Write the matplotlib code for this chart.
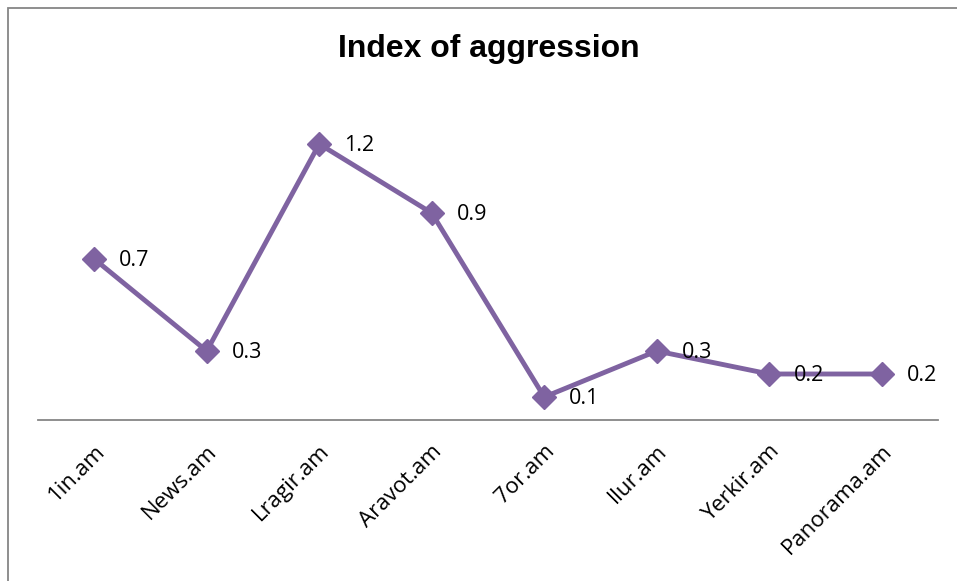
import matplotlib
matplotlib.use("Agg")
import matplotlib.pyplot as plt
from matplotlib.patches import Rectangle

categories = ["1in.am", "News.am", "Lragir.am", "Aravot.am", "7or.am", "Ilur.am", "Yerkir.am", "Panorama.am"]
values = [0.7, 0.3, 1.2, 0.9, 0.1, 0.3, 0.2, 0.2]
title = "Index of aggression"

W, H = 957, 581
fig = plt.figure(figsize=(W / 100, H / 100), dpi=100)
fig.patch.set_facecolor("white")

# outer chart border (clipped at right and bottom like the reference)
fig.add_artist(Rectangle((8 / W, -0.1), 1.2, (H - 8) / H + 0.1, transform=fig.transFigure,
                         fill=False, edgecolor="#868686", linewidth=1.3))

ax = fig.add_axes([38 / W, (H - 420) / H, 900 / W, 322 / H])
x = list(range(len(categories)))
color = "#7F63A1"
ax.plot(x, values, color=color, linewidth=3.5, marker="D", markersize=12,
        markerfacecolor=color, markeredgecolor=color, clip_on=False)
for xi, v in zip(x, values):
    ax.annotate(f"{v:g}", (xi, v), xytext=(18, -1), textcoords="offset points",
                ha="left", va="center", fontsize=15.5, family="Open Sans", color="black")

ax.set_xlim(-0.5, len(categories) - 0.5)
ax.set_ylim(0, 1.4)
ax.set_yticks([])
for s in ["top", "right", "left"]:
    ax.spines[s].set_visible(False)
ax.spines["bottom"].set_color("#868686")
ax.spines["bottom"].set_linewidth(1.3)
ax.set_xticks(x)
ax.set_xticklabels(categories, rotation=45, ha="right", va="top", rotation_mode="anchor",
                   fontsize=16, family="Open Sans")
ax.tick_params(axis="x", length=0, pad=15)

fig.text(489 / W, (H - 49) / H, title, ha="center", va="center", fontsize=23,
         fontweight="bold", family="Liberation Sans")

fig.savefig("out.png", dpi=100)
